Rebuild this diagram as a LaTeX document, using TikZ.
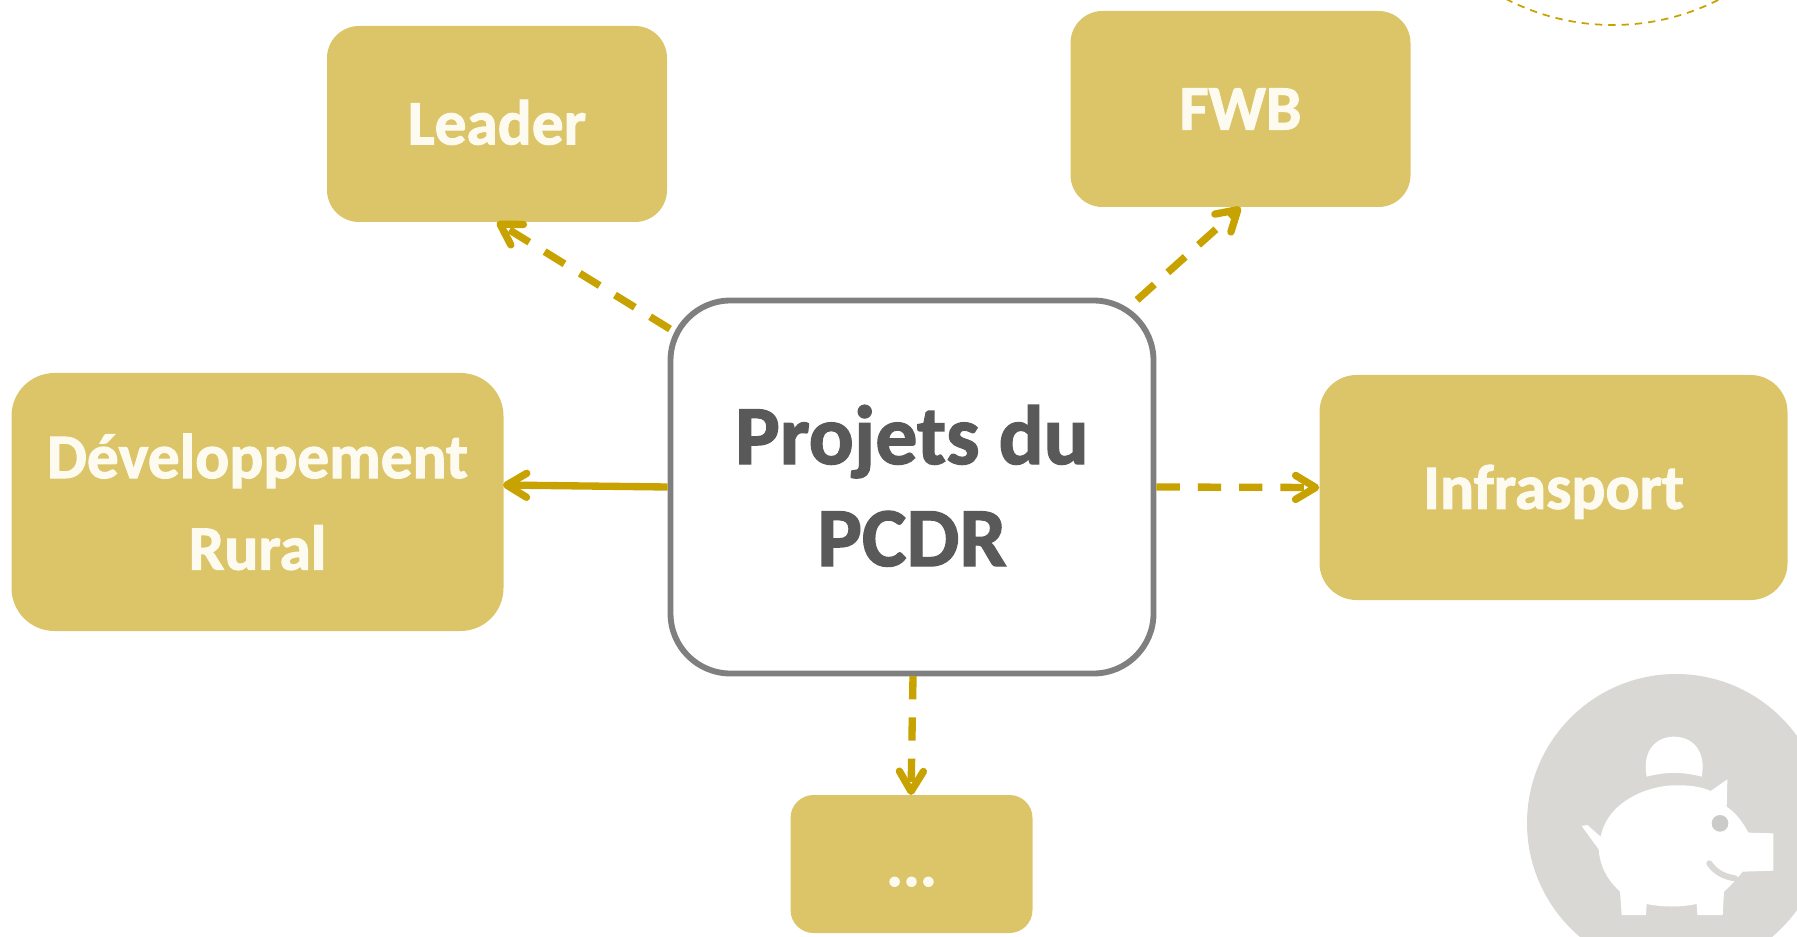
\documentclass[tikz,border=0pt]{standalone}
\usepackage{fontspec}
\setmainfont{Carlito}[BoldFeatures={FakeBold=1.6}]
\usetikzlibrary{arrows.meta}
\definecolor{boxfill}{HTML}{DCC568}
\definecolor{arrowcol}{HTML}{C7A200}
\definecolor{ringcol}{HTML}{7F7F7F}
\definecolor{inktext}{HTML}{595959}
\definecolor{softwhite}{HTML}{FDFAF0}
\definecolor{discol}{HTML}{D9D8D4}
\newcommand\basedrop[2]{\raisebox{-#1pt}[0pt][0pt]{#2}}
\tikzset{
  x=.75pt,y=-.75pt,
  goldbox/.style={draw=none,fill=boxfill,inner sep=0pt,align=center,text=softwhite,
    font=\fontsize{47.5pt}{68.7pt}\selectfont\bfseries},
  mainbox/.style={draw=ringcol,line width=4.4pt,fill=white,inner sep=0pt,align=center,text=inktext,
    font=\fontsize{63pt}{76.5pt}\selectfont\bfseries,
    minimum width=483*.75pt,minimum height=373*.75pt,rounded corners=60*.75pt},
  linkarrow/.style={draw=arrowcol,line width=5.5pt,
    -{Straight Barb[length=15pt,width=18pt,round]}},
  linkdash/.style={linkarrow,dash pattern=on 17.5pt off 13.5pt},
}
\begin{document}
\begin{tikzpicture}
\useasboundingbox (0,0) rectangle (1797,937);
\clip (0,0) rectangle (1797,937);

% dashed arc, top right
\draw[arrowcol,line width=1.3pt,dash pattern=on 5.5pt off 4.5pt] (1613,-208) circle[radius=233*.75pt];

% piggy-bank disc
\fill[discol] (1676,823) circle[radius=149*.75pt];
\begin{scope}[shift={(1500,660)},x=.25pt,y=-.25pt]
  \fill[white] (440,350) .. controls (425,270) and (470,230) .. (522,230)
     .. controls (575,230) and (620,270) .. (605,350)
     .. controls (550,335) and (495,335) .. (440,350) -- cycle;
  \fill[white] (245,498) -- (262,495) -- (302,530)
     .. controls (322,425) and (445,372) .. (540,376)
     .. controls (580,376) and (610,383) .. (632,393)
     -- (682,358) -- (680,440)
     .. controls (710,460) and (730,490) .. (745,518)
     -- (820,520) -- (820,632) -- (728,635)
     .. controls (715,650) and (700,670) .. (672,695)
     -- (668,765) -- (592,765) -- (590,732)
     .. controls (540,742) and (490,742) .. (440,732)
     -- (438,765) -- (365,765) -- (360,695)
     .. controls (322,660) and (300,620) .. (296,568)
     -- cycle;
  \fill[discol!85!gray] (660,490) circle[radius=25*.25pt];
  \draw[discol,line width=4.5pt,line cap=round] (628,610) .. controls (645,635) and (670,650) .. (705,655);
\end{scope}

\node[goldbox,minimum width=340*.75pt,minimum height=196*.75pt,rounded corners=32*.75pt] (leader) at (497,124) {\basedrop{15.3}{Leader}};
\node[goldbox,minimum width=340*.75pt,minimum height=196*.75pt,rounded corners=32*.75pt] (fwb) at (1240.5,109) {\basedrop{15.4}{FWB}};
\node[goldbox,minimum width=492*.75pt,minimum height=258*.75pt,rounded corners=43*.75pt] (dev) at (257.5,502) {\basedrop{16.4}{Développement}\\\basedrop{16.4}{Rural}};
\node[goldbox,minimum width=468*.75pt,minimum height=225*.75pt,rounded corners=37*.75pt] (infra) at (1553.5,487.5) {\basedrop{16}{Infrasport}};
\node[goldbox,minimum width=242*.75pt,minimum height=138*.75pt,rounded corners=23*.75pt] (more) at (911.5,864) {\basedrop{16.5}{...}};
\node[mainbox] (pcdr) at (912,487) {\basedrop{21}{Projets du}\\\basedrop{21}{PCDR}};

\coordinate (fromleft) at (670,329);
\coordinate (fromright) at (1137,300);
\coordinate (intodev) at (503,485);
\coordinate (frombottom) at (913,676);
\coordinate (intomore) at (911,795);

\draw[linkdash] (fromleft) -- (leader.south);
\draw[linkdash] (fromright) -- (fwb.south);
\draw[linkarrow] (pcdr.west) -- (intodev);
\draw[linkdash] (pcdr.east) -- (infra.west);
\draw[linkdash] (frombottom) -- (intomore);
\end{tikzpicture}
\end{document}
